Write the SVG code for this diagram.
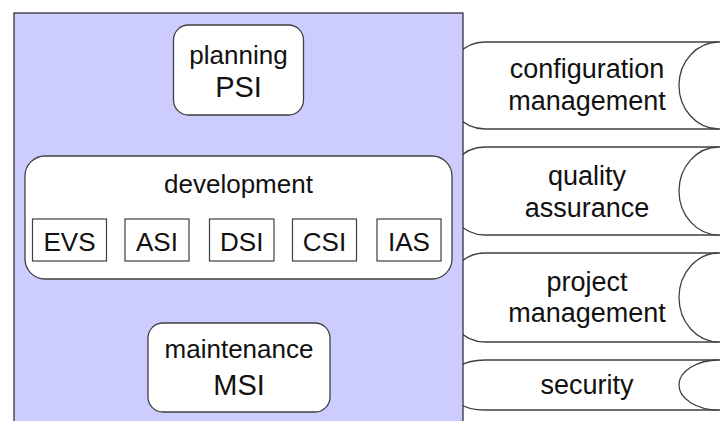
<svg xmlns="http://www.w3.org/2000/svg" width="720" height="421" viewBox="0 0 720 421">
<style>
.ln{stroke:#404040;stroke-width:1.3;fill:#fff}
.t{font-family:"Liberation Sans",Arial,sans-serif;font-size:26px;fill:#111;text-anchor:middle}
.c{font-size:27px}
.b{font-size:29px}
.sq{stroke:#404040;stroke-width:1.2;fill:#fff}
</style>
<rect width="720" height="421" fill="#fff"/>
<g id="cyl-config">
<path class="ln" d="M485,42 H719 A40,43.5 0 0 1 719,129 H485 A40,43.5 0 0 1 485,42 Z"/>
<path class="ln" d="M719,42 A40,43.5 0 0 0 719,129" fill="none"/>
<text class="t c" x="587" y="78">configuration</text>
<text class="t c" x="587" y="110">management</text>
</g>
<g id="cyl-quality">
<path class="ln" d="M485,147 H719 A40,44 0 0 1 719,235 H485 A40,44 0 0 1 485,147 Z"/>
<path class="ln" d="M719,147 A40,44 0 0 0 719,235" fill="none"/>
<text class="t c" x="587" y="185">quality</text>
<text class="t c" x="587" y="217">assurance</text>
</g>
<g id="cyl-project">
<path class="ln" d="M485,253 H719 A40,44.5 0 0 1 719,342 H485 A40,44.5 0 0 1 485,253 Z"/>
<path class="ln" d="M719,253 A40,44.5 0 0 0 719,342" fill="none"/>
<text class="t c" x="587" y="291">project</text>
<text class="t c" x="587" y="322">management</text>
</g>
<g id="cyl-security">
<path class="ln" d="M485,360 H719 A40,25 0 0 1 719,410 H485 A40,25 0 0 1 485,360 Z"/>
<path class="ln" d="M719,360 A40,25 0 0 0 719,410" fill="none"/>
<text class="t c" x="587" y="394">security</text>
</g>
<g id="container">
<rect x="14" y="13" width="449" height="420" fill="#ccccff" stroke="#333" stroke-width="1.3"/>
</g>
<g id="planning">
<rect class="ln" x="173.5" y="25" width="130" height="90" rx="15"/>
<text class="t" x="238.5" y="64">planning</text>
<text class="t b" x="238.5" y="97">PSI</text>
</g>
<g id="development">
<rect class="ln" x="25" y="156" width="427" height="123" rx="20"/>
<text class="t" x="238.5" y="193">development</text>
<g id="evs"><rect class="sq" x="32.5" y="219" width="74" height="42"/><text class="t" x="69.5" y="251">EVS</text></g>
<g id="asi"><rect class="sq" x="125" y="219" width="64" height="42"/><text class="t" x="157" y="251">ASI</text></g>
<g id="dsi"><rect class="sq" x="209.5" y="219" width="64.5" height="42"/><text class="t" x="241.7" y="251">DSI</text></g>
<g id="csi"><rect class="sq" x="292.5" y="219" width="64" height="42"/><text class="t" x="324.5" y="251">CSI</text></g>
<g id="ias"><rect class="sq" x="377" y="219" width="64" height="42"/><text class="t" x="409" y="251">IAS</text></g>
</g>
<g id="maintenance">
<rect class="ln" x="148" y="323" width="182" height="89" rx="15"/>
<text class="t" x="239" y="357.5">maintenance</text>
<text class="t b" x="239" y="395">MSI</text>
</g>
<g id="connectors"></g>
</svg>
